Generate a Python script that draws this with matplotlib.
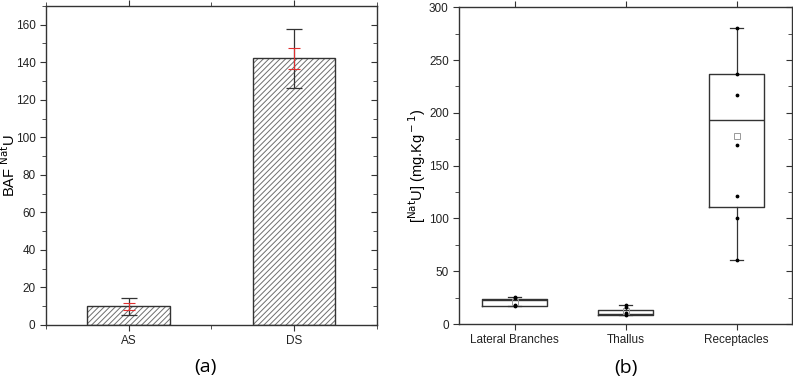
import matplotlib
matplotlib.use("Agg")
import matplotlib.pyplot as plt
from matplotlib.ticker import MultipleLocator

plt.rcParams['font.family'] = ['Liberation Sans Narrow', 'Liberation Sans', 'DejaVu Sans']
plt.rcParams['hatch.linewidth'] = 0.7

# panel (a) - bioaccumulation factor
sites = ["AS", "DS"]
baf_mean = [10, 142]
baf_err_black = [4.5, 15.6]
baf_err_red = [1.8, 5.4]

# panel (b) - box plot stats per organ
organs = ["Lateral Branches", "Thallus", "Receptacles"]
box_q1 = [17, 9, 110.5]
box_med = [23, 9.8, 193.5]
box_q3 = [23.5, 13.3, 236.5]
box_lo = [17, 9, 60.6]
box_hi = [26, 18, 280.7]
box_mean = [21, 12, 177.8]
points = [
    [26, 24.5, 18.5, 17],
    [18, 16, 10, 9],
    [280.7, 237, 217, 170, 121, 100, 60.6],
]

fig = plt.figure(figsize=(7.93, 3.79), dpi=100)

# ---- (a) ----
ax1 = fig.add_axes([0.058, 0.1425, 0.417, 0.842])
xpos = [1, 2]
ax1.bar(xpos, baf_mean, width=0.5, color="white", edgecolor="#6e6e6e",
        hatch="//////", linewidth=0, zorder=2)
ax1.bar(xpos, baf_mean, width=0.5, fill=False, edgecolor="#333333",
        linewidth=1.0, zorder=3)
ax1.errorbar(xpos, baf_mean, yerr=baf_err_black, fmt="none", ecolor="#333333",
             elinewidth=0.9, capsize=6, capthick=0.9, zorder=4)
ax1.errorbar(xpos, baf_mean, yerr=baf_err_red, fmt="none", ecolor="#e03030",
             elinewidth=0.8, capsize=4, capthick=0.8, zorder=5)
ax1.set_xlim(0.5, 2.5)
ax1.set_ylim(0, 170)
ax1.set_xticks(xpos)
ax1.set_xticklabels(sites)
ax1.xaxis.set_minor_locator(MultipleLocator(0.5))
ax1.yaxis.set_major_locator(MultipleLocator(20))
ax1.yaxis.set_minor_locator(MultipleLocator(10))
ax1.set_ylabel(r"BAF $^{\rm Nat}$U", fontsize=10.5, family=['Liberation Sans', 'DejaVu Sans'])
ax1.yaxis.set_label_coords(-0.085, 0.5)

# ---- (b) ----
ax2 = fig.add_axes([0.579, 0.145, 0.42, 0.836])
stats = []
for i in range(len(organs)):
    stats.append({"med": box_med[i], "q1": box_q1[i], "q3": box_q3[i],
                  "whislo": box_lo[i], "whishi": box_hi[i],
                  "mean": box_mean[i], "fliers": []})
bpos = [1, 2, 3]
ax2.bxp(stats, positions=bpos, widths=[0.58, 0.5, 0.5], showmeans=True,
        boxprops=dict(color="#333333", linewidth=1.0),
        medianprops=dict(color="#333333", linewidth=1.0),
        whiskerprops=dict(color="#333333", linewidth=0.9),
        capprops=dict(color="#333333", linewidth=0.9),
        meanprops=dict(marker="s", markerfacecolor="none", markeredgecolor="#999999",
                       markersize=4, markeredgewidth=0.7),
        capwidths=0.12)
for i, pts in enumerate(points):
    ax2.scatter([bpos[i]] * len(pts), pts, s=3, color="black", zorder=4)
ax2.set_xlim(0.5, 3.5)
ax2.set_ylim(0, 300)
ax2.set_xticks(bpos)
ax2.set_xticklabels(organs)
ax2.yaxis.set_major_locator(MultipleLocator(50))
ax2.yaxis.set_minor_locator(MultipleLocator(25))
ax2.set_ylabel(r"[$^{\rm Nat}$U] (mg.Kg$^{\rm -1}$)", fontsize=10.5,
               family=['Liberation Sans', 'DejaVu Sans'])
ax2.yaxis.set_label_coords(-0.093, 0.5)

for ax in (ax1, ax2):
    for sp in ax.spines.values():
        sp.set_color("#333333")
        sp.set_linewidth(1.0)
    ax.tick_params(axis="both", which="both", direction="out", colors="#333333",
                   labelsize=8.5, top=True)
    ax.tick_params(which="major", length=4)
    ax.tick_params(which="minor", length=3)
    ax.tick_params(labelcolor="#222222")
    # right-hand ticks pointing inward, like the original
    rt = ax.twinx()
    rt.set_ylim(ax.get_ylim())
    rt.yaxis.set_major_locator(ax.yaxis.get_major_locator())
    rt.yaxis.set_minor_locator(ax.yaxis.get_minor_locator())
    rt.tick_params(axis="y", which="both", direction="in", colors="#333333",
                   labelright=False)
    rt.tick_params(which="major", length=4)
    rt.tick_params(which="minor", length=3)
    for sp in rt.spines.values():
        sp.set_visible(False)

fig.text(0.259, 0.032, "(a)", fontsize=14, ha="center", va="center",
         family=['Open Sans', 'DejaVu Sans'])
fig.text(0.789, 0.03, "(b)", fontsize=14, ha="center", va="center",
         family=['Open Sans', 'DejaVu Sans'])

fig.savefig("out.png", dpi=100)
